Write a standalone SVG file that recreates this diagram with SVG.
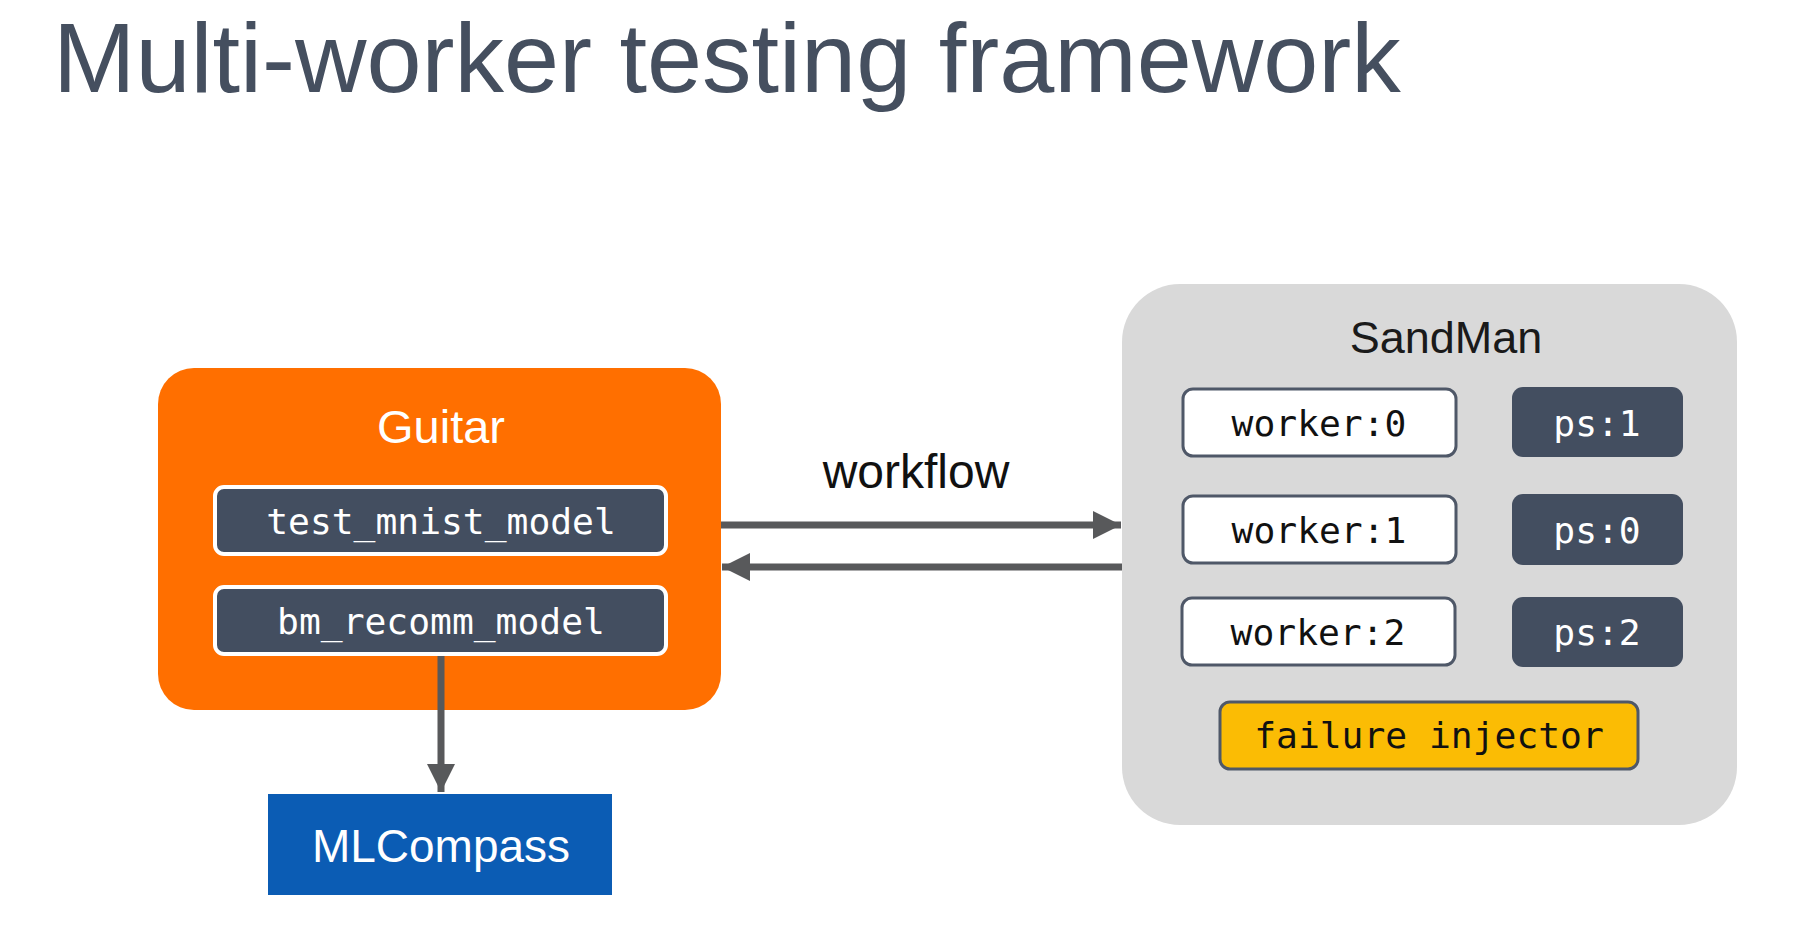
<svg xmlns="http://www.w3.org/2000/svg" width="1804" height="946" viewBox="0 0 1804 946">
<style>
.sans{font-family:"Liberation Sans",Arial,sans-serif}
.mono{font-family:"DejaVu Sans Mono","Liberation Mono",monospace;font-size:36.3px}
.dark{fill:#434E60}
.lite{fill:#FFFFFF;stroke:#4F5868;stroke-width:3}
.conn{stroke:#58595B;stroke-width:7;fill:none}
</style>
<defs>
<marker id="ah" viewBox="0 0 10 10" refX="10" refY="5" markerWidth="4" markerHeight="4" markerUnits="strokeWidth" orient="auto">
<path d="M0,0 L10,5 L0,10 Z" fill="#58595B"/>
</marker>
</defs>
<rect width="1804" height="946" fill="#FFFFFF"/>
<text class="sans" x="53" y="92" font-size="99" fill="#454F5F">Multi-worker testing framework</text>

<g id="guitar">
<rect x="158" y="368" width="563" height="342" rx="36" fill="#FF6F00"/>
<text class="sans" x="441" y="443" font-size="47" fill="#FFFFFF" text-anchor="middle">Guitar</text>
</g>
<g id="test_mnist_model">
<rect x="215" y="487" width="451" height="67" rx="9" fill="#434E60" stroke="#FFFFFF" stroke-width="4"/>
<text class="mono" x="441" y="534" fill="#FFFFFF" text-anchor="middle">test_mnist_model</text>
</g>
<g id="bm_recomm_model">
<rect x="215" y="587" width="451" height="67" rx="9" fill="#434E60" stroke="#FFFFFF" stroke-width="4"/>
<text class="mono" x="441" y="634" fill="#FFFFFF" text-anchor="middle">bm_recomm_model</text>
</g>
<g id="mlcompass">
<rect x="268" y="794" width="344" height="101" fill="#0B5CB4"/>
<text class="sans" x="441" y="862" font-size="46" fill="#FFFFFF" text-anchor="middle">MLCompass</text>
</g>

<g id="sandman">
<rect x="1122" y="284" width="615" height="541" rx="58" fill="#D9D9D9"/>
<text class="sans" x="1446" y="353" font-size="45" fill="#1A1A1A" text-anchor="middle">SandMan</text>
</g>
<g id="worker0"><rect class="lite" x="1183" y="389" width="273" height="67" rx="10"/><text class="mono" x="1319" y="436" fill="#111" text-anchor="middle">worker:0</text></g>
<g id="worker1"><rect class="lite" x="1183" y="496" width="273" height="67" rx="10"/><text class="mono" x="1319" y="543" fill="#111" text-anchor="middle">worker:1</text></g>
<g id="worker2"><rect class="lite" x="1182" y="598" width="273" height="67" rx="10"/><text class="mono" x="1318" y="645" fill="#111" text-anchor="middle">worker:2</text></g>
<g id="ps1"><rect class="dark" x="1512" y="387" width="171" height="70" rx="11"/><text class="mono" x="1597" y="436" fill="#FFFFFF" text-anchor="middle">ps:1</text></g>
<g id="ps0"><rect class="dark" x="1512" y="494" width="171" height="71" rx="11"/><text class="mono" x="1597" y="543" fill="#FFFFFF" text-anchor="middle">ps:0</text></g>
<g id="ps2"><rect class="dark" x="1512" y="597" width="171" height="70" rx="11"/><text class="mono" x="1597" y="645" fill="#FFFFFF" text-anchor="middle">ps:2</text></g>
<g id="failure_injector"><rect x="1220" y="702" width="418" height="67" rx="10" fill="#FBBC04" stroke="#4F5868" stroke-width="3"/><text class="mono" x="1429" y="748" fill="#111" text-anchor="middle">failure injector</text></g>

<g id="connectors">
<line class="conn" x1="721" y1="525" x2="1121" y2="525" marker-end="url(#ah)"/>
<line class="conn" x1="1122" y1="567" x2="722" y2="567" marker-end="url(#ah)"/>
<line class="conn" x1="441" y1="656" x2="441" y2="792" marker-end="url(#ah)"/>
<text class="sans" x="916" y="488" font-size="48" fill="#111111" text-anchor="middle">workflow</text>
</g>
</svg>
